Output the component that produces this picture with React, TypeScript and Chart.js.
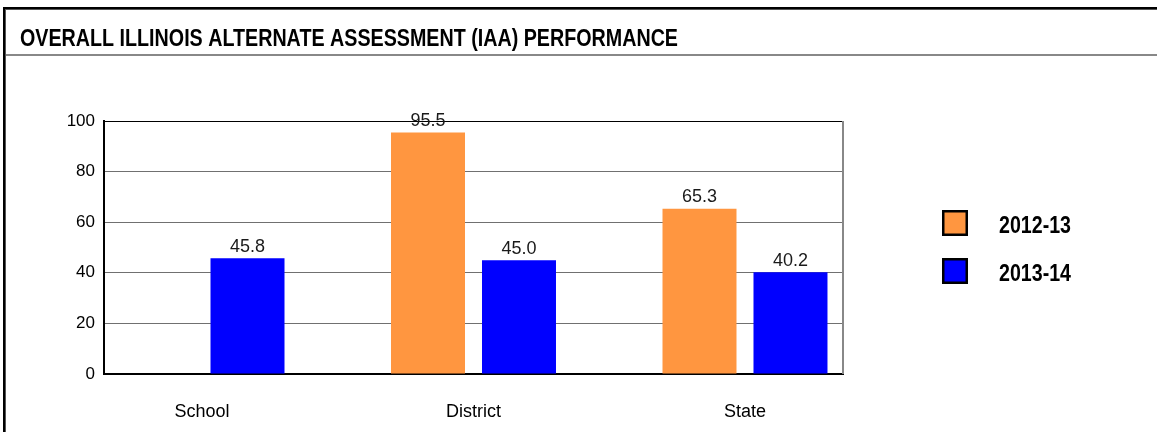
import React, { useEffect, useRef } from 'react';
import { Chart, registerables } from 'chart.js';

Chart.register(...registerables);

const TITLE = 'OVERALL ILLINOIS ALTERNATE ASSESSMENT (IAA) PERFORMANCE';
const categories = ['School', 'District', 'State'];
const seriesNames = ['2012-13', '2013-14'];
const values2012: (number | null)[] = [null, 95.5, 65.3];
const values2013: (number | null)[] = [45.8, 45.0, 40.2];
const seriesValues = [values2012, values2013];
const yTicks = [0, 20, 40, 60, 80, 100];
const seriesColors = ['#FF9640', '#0000FF'];

const FONT = '"Liberation Sans", Arial, Helvetica, sans-serif';

function fitText(ctx: CanvasRenderingContext2D, text: string, x: number, y: number, width: number) {
  const w = ctx.measureText(text).width;
  ctx.save();
  ctx.translate(x, y);
  ctx.scale(width / w, 1);
  ctx.fillText(text, 0, 0);
  ctx.restore();
}

const labelPlugin = {
  id: 'valueLabels',
  afterDatasetsDraw(chart: any) {
    const ctx: CanvasRenderingContext2D = chart.ctx;
    ctx.save();
    ctx.font = `18px ${FONT}`;
    ctx.fillStyle = '#1a1a1a';
    ctx.textAlign = 'center';
    ctx.textBaseline = 'alphabetic';
    chart.data.datasets.forEach((ds: any, i: number) => {
      const meta = chart.getDatasetMeta(i);
      meta.data.forEach((el: any, j: number) => {
        const v = ds.data[j].y;
        if (v === null || v === undefined) return;
        ctx.fillText(v.toFixed(1), el.x, el.y - 6.5);
      });
    });
    ctx.restore();
  },
};

const framePlugin = {
  id: 'frame',
  afterDraw(chart: any) {
    const ctx: CanvasRenderingContext2D = chart.ctx;
    const area = chart.chartArea;
    ctx.save();
    // outer border
    ctx.fillStyle = '#000';
    ctx.fillRect(3, 7, 1154, 2);
    ctx.fillRect(3, 7, 2, 425);
    ctx.fillStyle = '#555';
    ctx.fillRect(5, 9, 1152, 1);
    ctx.fillRect(5, 9, 1, 423);
    // title separator
    ctx.fillStyle = '#888';
    ctx.fillRect(6, 54, 1151, 2);
    // title
    ctx.fillStyle = '#000';
    ctx.font = `bold 23px ${FONT}`;
    ctx.textAlign = 'left';
    ctx.textBaseline = 'alphabetic';
    fitText(ctx, TITLE, 20, 46, 658);
    // plot right border
    ctx.strokeStyle = '#888';
    ctx.lineWidth = 2;
    ctx.beginPath();
    ctx.moveTo(area.right, area.top);
    ctx.lineTo(area.right, area.bottom);
    ctx.stroke();
    // legend
    seriesNames.forEach((name, i) => {
      const y = 210 + i * 48;
      ctx.fillStyle = '#000';
      ctx.fillRect(942, y, 26, 26);
      ctx.fillStyle = seriesColors[i];
      ctx.fillRect(944.5, y + 2.5, 21, 21);
      ctx.fillStyle = '#000';
      ctx.font = `bold 23px ${FONT}`;
      fitText(ctx, name, 999, y + 23, 72);
    });
    ctx.restore();
  },
};

export default function App() {
  const ref = useRef<HTMLCanvasElement>(null);
  useEffect(() => {
    if (!ref.current) return;
    const chart = new Chart(ref.current, {
      type: 'bar',
      data: {
        datasets: seriesNames.map((name, i) => ({
          label: name,
          data: categories.map((_, j) => ({ x: j, y: seriesValues[i][j] })),
          backgroundColor: seriesColors[i],
          borderWidth: 0,
          categoryPercentage: 0.6703,
          barPercentage: 0.8132,
        })),
      } as any,
      options: {
        responsive: false,
        animation: false,
        devicePixelRatio: 1,
        layout: { padding: { left: 0, top: 121, right: 314, bottom: 0 } },
        plugins: {
          legend: { display: false },
          title: { display: false },
          tooltip: { enabled: false },
        },
        scales: {
          x: {
            type: 'linear',
            offset: false,
            min: -0.361,
            max: 2.361,
            afterBuildTicks: (s: any) => {
              s.ticks = categories.map((_, i) => ({ value: i }));
            },
            afterFit: (s: any) => {
              s.height = 58;
            },
            grid: { display: false, offset: false },
            border: { display: true, color: '#000', width: 2 },
            ticks: {
              callback: (v: any) => categories[Math.round(Number(v))] ?? '',
              font: { family: FONT, size: 18 },
              color: '#000',
              padding: 19,
              maxRotation: 0,
              autoSkip: false,
            },
          },
          y: {
            min: 0,
            max: 100,
            afterBuildTicks: (s: any) => {
              s.ticks = yTicks.map((v) => ({ value: v }));
            },
            afterFit: (s: any) => {
              s.width = 104;
            },
            grid: {
              color: (c: any) => (c.tick && (c.tick.value === 100 || c.tick.value === 0) ? '#000' : '#707070'),
              lineWidth: 1,
              drawTicks: false,
            },
            border: { display: true, color: '#000', width: 2 },
            ticks: {
              font: { family: FONT, size: 17 },
              color: '#000',
              padding: 9,
            },
          },
        },
      } as any,
      plugins: [labelPlugin, framePlugin],
    });
    return () => chart.destroy();
  }, []);
  return (
    <div style={{ position: 'absolute', left: 0, top: 0, width: 1157, height: 432, background: '#fff' }}>
      <canvas ref={ref} width={1157} height={432} style={{ display: 'block' }} />
    </div>
  );
}
